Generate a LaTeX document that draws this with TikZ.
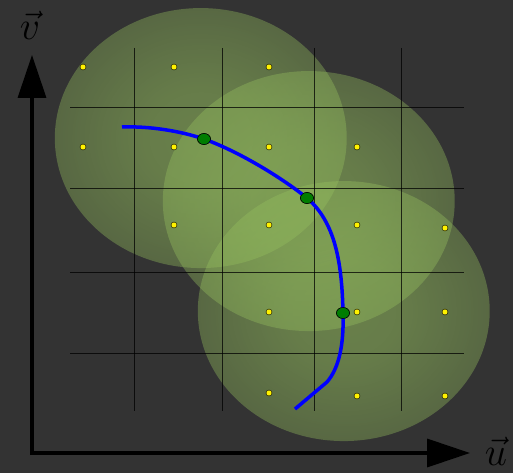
\documentclass[tikz,border=0pt]{standalone}
\usetikzlibrary{arrows.meta,shapes.geometric,fadings}
\definecolor{bg}{RGB}{51,51,51}
\definecolor{ellcol}{RGB}{150,192,95}
\definecolor{dotgreen}{RGB}{0,125,0}
\pgfdeclareradialshading{glowfadeshade}{\pgfpointorigin}{color(0bp)=(pgftransparent!45); color(10bp)=(pgftransparent!48); color(50bp)=(pgftransparent!86); color(100bp)=(pgftransparent!86)}
\pgfdeclarefading{glowfade}{\pgfuseshading{glowfadeshade}}
\tikzset{
  glowell/.style={fill=ellcol, path fading=glowfade},
  gridline/.style={black, line width=0.9pt, draw opacity=0.75},
  ydot/.style={circle, fill=yellow, draw=black, line width=0.4pt, inner sep=0pt, minimum size=6pt},
  gdot/.style={ellipse, fill=dotgreen, draw=black, line width=0.5pt, inner sep=0pt, minimum width=13pt, minimum height=11pt},
  axis/.style={black, line width=3.5pt, -{Triangle[width=28pt,length=43pt]}},
  curve/.style={blue, line width=3.5pt},
  lbl/.style={font=\Huge, scale=1.6, inner sep=0pt}
}
\begin{document}
\begin{tikzpicture}[x=1pt,y=-1pt]
\fill[bg] (0,0) rectangle (513,473);
\useasboundingbox (0,0) rectangle (513,473);
% ellipses
\path[glowell] (201,138) ellipse [x radius=146, y radius=130];
\path[glowell] (309,201) ellipse [x radius=146, y radius=130];
\path[glowell] (344,311) ellipse [x radius=146, y radius=130];
% grid
\foreach \gx in {134,222,314,401} \draw[gridline] (\gx,48) -- (\gx,411);
\foreach \gy in {107,188,272,353} \draw[gridline] (70,\gy) -- (464,\gy);
% yellow dots
\foreach \px/\py [count=\i] in {83/67,174/67,269/67,83/147,174/147,269/147,357/147,174/225,269/225,357/225,445/228,269/312,357/312,445/312,269/393,357/396,445/396}
  \node[ydot] (y\i) at (\px,\py) {};
% curve
\coordinate (c0) at (122,127);
\coordinate (c4) at (327,382);
\coordinate (c5) at (295,409);
\node[gdot] (g1) at (204,139) {};
\node[gdot] (g2) at (307,198) {};
\node[gdot] (g3) at (343,313) {};
\draw[curve] (c0) .. controls (150,126) and (180,131) .. (g1.center)
  .. controls (240,152) and (282,178) .. (g2.center)
  .. controls (335,222) and (342,262) .. (g3.center)
  .. controls (344,345) and (339,368) .. (c4) -- (c5);
\node[gdot] at (g1) {};
\node[gdot] at (g2) {};
\node[gdot] at (g3) {};
% axes
\coordinate (ut) at (470,453);
\coordinate (vt) at (32,55);
\draw[axis] (30,453) -- (ut);
\draw[axis] (32,455) -- (vt);
\node[lbl] (v) at (30,25) {$\vec{v}$};
\node[lbl] (u) at (496,451) {$\vec{u}$};
\end{tikzpicture}
\end{document}
